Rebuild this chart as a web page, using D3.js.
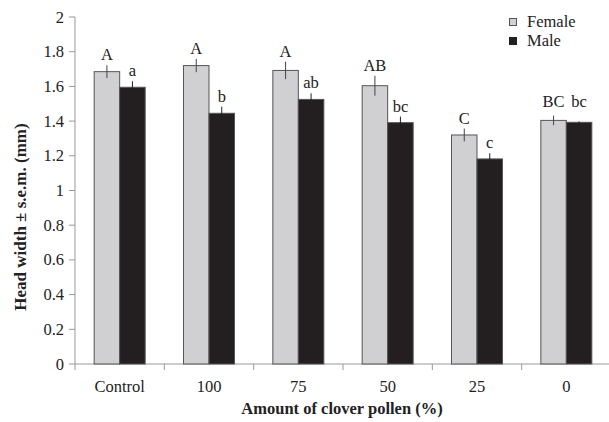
<!DOCTYPE html>
<html lang="en">
<head>
  <meta charset="utf-8">
  <title>Head width</title>
  <script src="https://d3js.org/d3.v7.min.js"></script>
  <style>
    body { margin: 0; background: #fff; }
    text { font-family: "Liberation Serif", "Times New Roman", serif; fill: #222; }
  </style>
</head>
<body>
  <script type="text/javascript">
  var categories = ["Control", "100", "75", "50", "25", "0"];
  var female = [1.685, 1.72, 1.692, 1.604, 1.32, 1.404];
  var femaleErr = [0.037, 0.038, 0.05, 0.057, 0.037, 0.028];
  var femaleLetters = ["A", "A", "A", "AB", "C", "BC"];
  var male = [1.595, 1.445, 1.525, 1.391, 1.182, 1.393];
  var maleErr = [0.035, 0.038, 0.035, 0.035, 0.033, 0.005];
  var maleLetters = ["a", "b", "ab", "bc", "c", "bc"];
  var yTicks = [0, 0.2, 0.4, 0.6, 0.8, 1, 1.2, 1.4, 1.6, 1.8, 2];

  var w = 609, h = 422;
  var plotLeft = 75, plotRight = 611, plotTop = 17, plotBottom = 364;
  var fs = "16.5px";

  var svg = d3.select("body").append("svg")
    .attr("width", w).attr("height", h);

  var x = d3.scaleBand().domain(categories).range([plotLeft, plotRight]);
  var sub = d3.scaleBand().domain(["f", "m"]).range([0, 51]);
  var y = d3.scaleLinear().domain([0, 2]).range([plotBottom, plotTop]);

  // y axis
  svg.append("line").attr("x1", plotLeft).attr("x2", plotLeft).attr("y1", y(2)).attr("y2", y(0))
    .attr("stroke", "#999").attr("stroke-width", 1);
  yTicks.forEach(function(t){
    svg.append("line").attr("x1", plotLeft - 6).attr("x2", plotLeft).attr("y1", y(t)).attr("y2", y(t))
      .attr("stroke", "#999");
    svg.append("text").text(t).attr("x", 64).attr("y", y(t) + 5.5)
      .attr("text-anchor", "end").attr("font-size", fs);
  });

  // x axis
  svg.append("line").attr("x1", plotLeft).attr("x2", w).attr("y1", y(0)).attr("y2", y(0))
    .attr("stroke", "#999");
  categories.forEach(function(c, i){
    svg.append("line").attr("x1", x(c)).attr("x2", x(c)).attr("y1", y(0)).attr("y2", y(0) + 6)
      .attr("stroke", "#999");
    svg.append("text").text(c).attr("x", x(c) + x.bandwidth() / 2).attr("y", 392)
      .attr("text-anchor", "middle").attr("font-size", fs);
  });

  function drawSeries(vals, errs, letters, key, fill, errColor, other){
    var bw = sub.bandwidth();
    var g = svg.append("g");
    categories.forEach(function(c, i){
      var bx = x(c) + x.bandwidth() / 2 - 25.5 + sub(key);
      g.append("rect").attr("x", bx).attr("y", y(vals[i]))
        .attr("width", bw).attr("height", y(0) - y(vals[i]))
        .attr("fill", fill).attr("stroke", "#555").attr("stroke-width", 1);
      g.append("line").attr("x1", bx + bw / 2).attr("x2", bx + bw / 2)
        .attr("y1", y(vals[i] + errs[i])).attr("y2", y(vals[i] - errs[i]))
        .attr("stroke", errColor).attr("stroke-width", 1);
      var ly = y(vals[i] + errs[i]) - 5;
      if (Math.abs(vals[i] - other[i]) < 0.05) {
        ly = Math.min(ly, y(Math.max(female[i] + femaleErr[i], male[i] + maleErr[i])) - 9);
      }
      g.append("text").text(letters[i]).attr("x", bx + bw / 2).attr("y", ly)
        .attr("text-anchor", "middle").attr("font-size", fs);
    });
  }
  drawSeries(female, femaleErr, femaleLetters, "f", "#d0d0d2", "#444", male);
  drawSeries(male, maleErr, maleLetters, "m", "#231f20", "#231f20", female);

  // legend
  svg.append("rect").attr("x", 509.5).attr("y", 18.5).attr("width", 7).attr("height", 7)
    .attr("fill", "#d0d0d2").attr("stroke", "#555");
  svg.append("text").text("Female").attr("x", 527).attr("y", 27).attr("font-size", fs);
  svg.append("rect").attr("x", 509).attr("y", 37).attr("width", 8).attr("height", 8)
    .attr("fill", "#231f20");
  svg.append("text").text("Male").attr("x", 527).attr("y", 46).attr("font-size", fs);

  // titles
  svg.append("text").text("Amount of clover pollen (%)")
    .attr("x", 342).attr("y", 414).attr("text-anchor", "middle")
    .attr("font-size", fs).attr("font-weight", "bold");
  svg.append("text").text("Head width \u00b1 s.e.m. (mm)")
    .attr("transform", "translate(26,217) rotate(-90)")
    .attr("text-anchor", "middle").attr("font-size", "17px").attr("font-weight", "bold");
  </script>
</body>
</html>
